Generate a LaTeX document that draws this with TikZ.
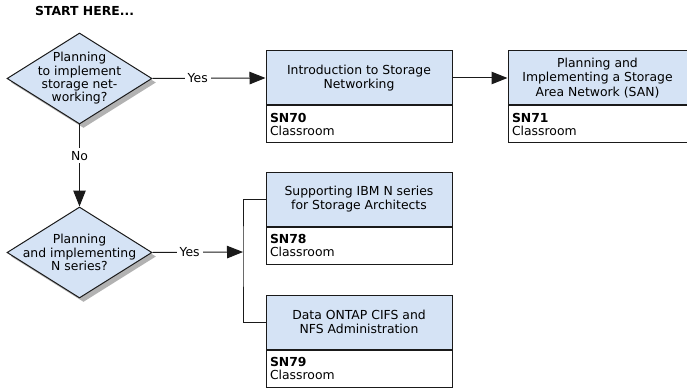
\documentclass[tikz,border=0pt]{standalone}
\usepackage{fontspec}
\setmainfont{DejaVu Sans}
\usetikzlibrary{arrows.meta, positioning, shapes.geometric, shadows}
\definecolor{boxblue}{HTML}{D5E3F5}
\definecolor{edgegray}{HTML}{1A1A1A}
\tikzset{
  question/.style={diamond,draw=edgegray,fill=boxblue,line width=1pt,inner sep=0pt,
    minimum width=145pt,minimum height=91pt,
    drop shadow={shadow xshift=4pt,shadow yshift=-4pt,fill=black!30,opacity=1}},
  asktext/.style={align=center,inner sep=0pt,font=\fontsize{12.4}{13.3}\selectfont},
  coursetitle/.style={rectangle,draw=edgegray,fill=boxblue,line width=1pt,
    minimum width=186pt,minimum height=54pt,align=center,inner sep=2pt,
    font=\fontsize{12.4}{14.5}\selectfont},
  courseinfo/.style={rectangle,draw=edgegray,fill=white,line width=1pt,
    minimum width=186pt,minimum height=37pt,text width=178pt,align=left,inner sep=4pt,
    font=\fontsize{12.4}{13.5}\selectfont},
  flow/.style={-{Triangle[length=16pt,width=12.5pt]},line width=1pt,draw=edgegray},
  link/.style={line width=1pt,draw=edgegray},
  answer/.style={fill=white,inner sep=3pt,font=\fontsize{12.4}{14}\selectfont}
}

\begin{document}
\begin{tikzpicture}[x=1pt,y=-1pt]
  \useasboundingbox (0,0) rectangle (687,390);
  \node[anchor=west,inner sep=0pt,font=\fontsize{12.4}{14}\selectfont\bfseries] (start) at (35,11) {START HERE...};

  % first question and the SAN path
  \node[question] (q1) at (79.5,78.5) {};
  \node[asktext] (q1text) at (q1) {Planning\\to implement\\storage net-\\working?};
  \node[coursetitle] (t70) at (359,78) {Introduction to Storage\\Networking};
  \node[courseinfo, below=0pt of t70] (i70) {\textbf{SN70}\\Classroom};
  \node[coursetitle, right=55pt of t70, minimum width=179pt] (t71) {Planning and\\Implementing a Storage\\Area Network (SAN)};
  \node[courseinfo, below=0pt of t71, minimum width=179pt, text width=171pt] (i71) {\textbf{SN71}\\Classroom};

  % second question and the N series path
  \node[question, below=82pt of q1] (q2) {};
  \node[asktext] (q2text) at (q2) {Planning\\and implementing\\N series?};
  \node[coursetitle] (t78) at (359,199) {Supporting IBM N series\\for Storage Architects};
  \node[courseinfo, below=0pt of t78] (i78) {\textbf{SN78}\\Classroom};
  \node[coursetitle] (t79) at (359,322) {Data ONTAP CIFS and\\NFS Administration};
  \node[courseinfo, below=0pt of t79] (i79) {\textbf{SN79}\\Classroom};
  \coordinate (split) at (243,252);

  \draw[flow] (q1.east) -- node[answer, pos=0.4] {Yes} (t70.west);
  \draw[flow] (t70.east) -- (t71.west);
  \draw[flow] (q1.south) -- node[answer, pos=0.38] {No} (q2.north);
  \draw[flow] (q2.east) -- node[answer, pos=0.41] {Yes} (split);
  \draw[link] (t78.west) -| (split) |- (t79.west);
\end{tikzpicture}
\end{document}
